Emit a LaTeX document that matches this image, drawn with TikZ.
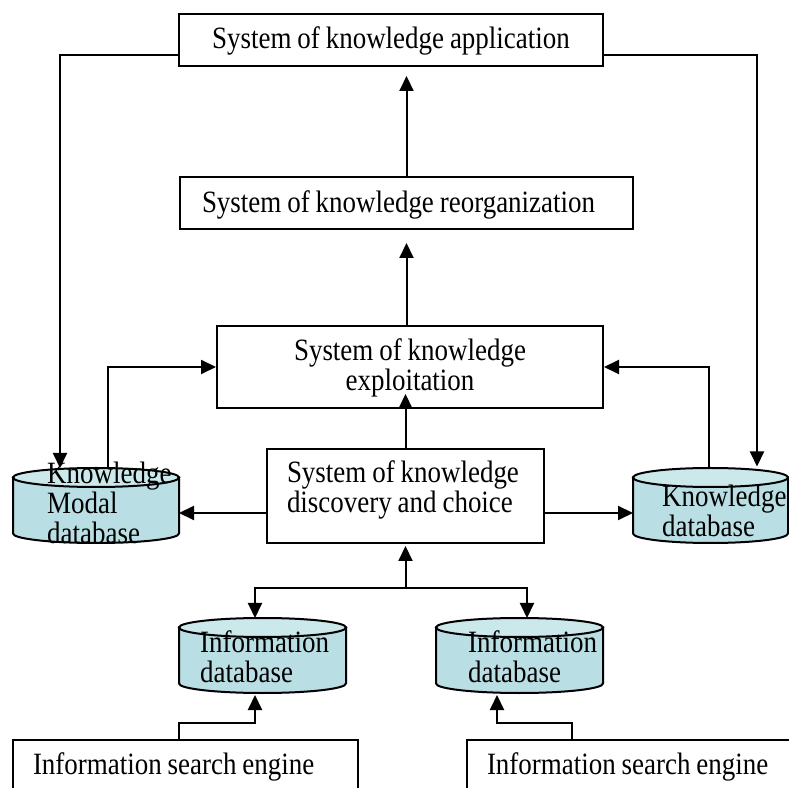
\documentclass[tikz,border=0pt]{standalone}
\usepackage{fontspec}
\setmainfont{Liberation Serif}[FakeStretch=0.87, WordSpace=0.87]
\usetikzlibrary{arrows.meta,calc}
\definecolor{dbbodycol}{RGB}{185,222,227}
\definecolor{dbtopcol}{RGB}{203,232,235}
\newcommand\lline[2]{\makebox[#1][l]{#2}}
\newcommand\dbshape[1]{%
  \path[dbbody] let \p1=(#1.north west), \p2=(#1.south east), \n1={(\x2-\x1)/2} in
    (\x1,\y1-9.5pt) -- (\x1,\y2+9.5pt)
    arc[start angle=180,end angle=360,x radius=\n1,y radius=9.5pt]
    -- (\x2,\y1-9.5pt) -- cycle;
  \path[dbtop] let \p1=(#1.north west), \p2=(#1.south east), \n1={(\x2-\x1)/2} in
    (\x1+\n1,\y1-9.5pt) ellipse[x radius=\n1, y radius=9.5pt];
}
\begin{document}
\begin{tikzpicture}[x=1pt,y=1pt,
  every node/.style={font=\fontsize{31}{30}\selectfont},
  box/.style={draw, line width=2pt, inner sep=0pt},
  dbnode/.style={inner sep=0pt, outer sep=0pt},
  dbbody/.style={fill=dbbodycol, draw, line width=2pt},
  dbtop/.style={fill=dbtopcol, draw, line width=2pt},
  dbtext/.style={align=left, inner sep=0pt, anchor=north west},
  conn/.style={draw, line width=2pt, -{Triangle[length=15pt,width=14pt]}}]
\useasboundingbox (0,0) rectangle (789,787);
\clip (0,0) rectangle (789,787);

% boxes
\node[box, minimum width=424pt, minimum height=52pt] (app) at (391,747)
  {\rule{0pt}{23pt}System of knowledge application};
\node[box, minimum width=453pt, minimum height=52pt, inner xsep=22pt, align=left] (reorg) at (406.5,584)
  {\lline{409pt}{\rule{0pt}{26pt}System of knowledge reorganization}};
\node[box, minimum width=386pt, minimum height=82pt, align=center] (expl) at (410,420)
  {\rule{0pt}{23pt}System of knowledge\\exploitation};
\node[box, minimum width=277pt, minimum height=94pt, inner xsep=20pt, align=left] (disc) at (405.5,291)
  {\lline{237pt}{System of knowledge}\\\lline{237pt}{discovery and choice\rule[-19pt]{0pt}{19pt}}};
\node[box, minimum width=345pt, minimum height=54pt, inner xsep=20pt, align=left] (s1) at (185.5,20)
  {\lline{305pt}{Information search engine}};
\node[box, minimum width=383pt, minimum height=54pt, inner xsep=20pt, align=left] (s2) at (658.5,20)
  {\lline{343pt}{Information search engine}};

% databases
\node[dbnode, minimum width=166pt, minimum height=75pt] (kmd) at (96,281.5) {};
\node[dbnode, minimum width=155pt, minimum height=75pt] (kd) at (710.5,281.5) {};
\node[dbnode, minimum width=167pt, minimum height=75pt] (id1) at (262.5,131.5) {};
\node[dbnode, minimum width=167pt, minimum height=75pt] (id2) at (519.5,131.5) {};
\dbshape{kmd}
\dbshape{kd}
\dbshape{id1}
\dbshape{id2}
\node[dbtext] (kmdt) at (47,325.2) {Knowledge\\Modal\\database};
\node[dbtext] (kdt) at (662,302.2) {Knowledge\\database};
\node[dbtext] (id1t) at (200,156.2) {Information\\database};
\node[dbtext] (id2t) at (468,156.2) {Information\\database};

% connectors
\draw[conn] ([yshift=-15pt]app.west) -| ([xshift=-36pt]kmd.north);
\draw[conn, shorten >=1.5pt] ([yshift=-15pt]app.east) -| ([xshift=46.5pt]kd.north);
\draw[conn, shorten >=9pt] (reorg.north) -- (reorg.north |- app.south);
\draw[conn, shorten >=13pt] (reorg.south |- expl.north) -- (reorg.south);
\draw[conn, shorten >=-15pt] (disc.north) -- (disc.north |- expl.south);
\draw[conn] ([xshift=12pt]kmd.north) |- (expl.west);
\draw[conn] ([xshift=-1.5pt]kd.north) |- (expl.east);
\draw[conn] ([yshift=-17pt]disc.west) -- ([yshift=-17pt]disc.west -| kmd.east);
\draw[conn] ([yshift=-17pt]disc.east) -- ([yshift=-17pt]disc.east -| kd.west);
\coordinate (split) at (405.5,199);
\draw[conn, shorten >=2pt] (split) -- (disc.south);
\draw[conn] (split) -| ([xshift=-7.5pt]id1.north);
\draw[conn] (split) -| ([xshift=7.5pt]id2.north);
\draw[conn, shorten >=2pt] ([xshift=-6.5pt]s1.north) -- ++(0,16) -| ([xshift=-7.5pt]id1.south);
\draw[conn, shorten >=2pt] ([xshift=-86.5pt]s2.north) -- ++(0,16) -| ([xshift=-22.5pt]id2.south);
\end{tikzpicture}
\end{document}
